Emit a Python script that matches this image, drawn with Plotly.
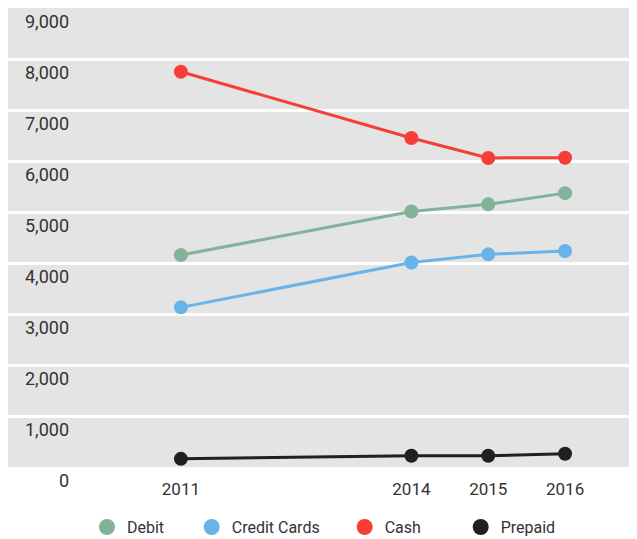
import plotly.graph_objects as go

years = [2011, 2014, 2015, 2016]
debit = [4155, 5010, 5150, 5370]
credit_cards = [3130, 4010, 4170, 4235]
cash = [7750, 6450, 6060, 6065]
prepaid = [160, 220, 220, 260]
y_ticks = [0, 1000, 2000, 3000, 4000, 5000, 6000, 7000, 8000, 9000]

series = [
    ("Debit", debit, "#82b29a"),
    ("Credit Cards", credit_cards, "#68b4e8"),
    ("Cash", cash, "#f63e37"),
    ("Prepaid", prepaid, "#231f20"),
]
legend_ids = ["legend", "legend2", "legend3", "legend4"]
legend_x = [0.126, 0.293, 0.537, 0.722]

fig = go.Figure()
for name, vals, color in series:
    fig.add_trace(go.Scatter(
        x=years, y=vals, name=name, mode="lines+markers",
        line=dict(color=color, width=3),
        marker=dict(color=color, size=14),
        showlegend=False,
    ))
for (name, vals, color), lid in zip(series, legend_ids):
    fig.add_trace(go.Scatter(
        x=[None], y=[None], name=name, mode="markers",
        marker=dict(color=color, size=16),
        showlegend=True, legend=lid,
    ))

font = "Roboto, 'DejaVu Sans', sans-serif"
legend_style = dict(orientation="h", xanchor="left", y=-0.131, yanchor="middle",
                    font=dict(size=16, color="#333333"),
                    bgcolor="rgba(0,0,0,0)")
fig.update_layout(
    width=629, height=545,
    margin=dict(l=0, r=2, t=0, b=86),
    paper_bgcolor="white",
    plot_bgcolor="#e4e4e4",
    font=dict(family=font, size=17, color="#333333"),
    showlegend=True,
    **{lid: dict(x=lx, **legend_style) for lid, lx in zip(legend_ids, legend_x)},
)
fig.update_xaxes(
    range=[2008.75, 2016.91], tickvals=years, ticktext=[str(y) for y in years],
    showgrid=False, zeroline=False, showline=False, ticks="",
    ticklabelstandoff=10, automargin=False,
)
fig.update_yaxes(
    range=[0, 9000], tickvals=y_ticks, tickformat=",d",
    showgrid=True, gridcolor="white", gridwidth=3,
    zeroline=False, showline=False, ticks="",
    ticklabelstandoff=-62, ticklabelshift=14, automargin=False,
    tickfont=dict(size=18),
)
fig.write_html("out.html")
